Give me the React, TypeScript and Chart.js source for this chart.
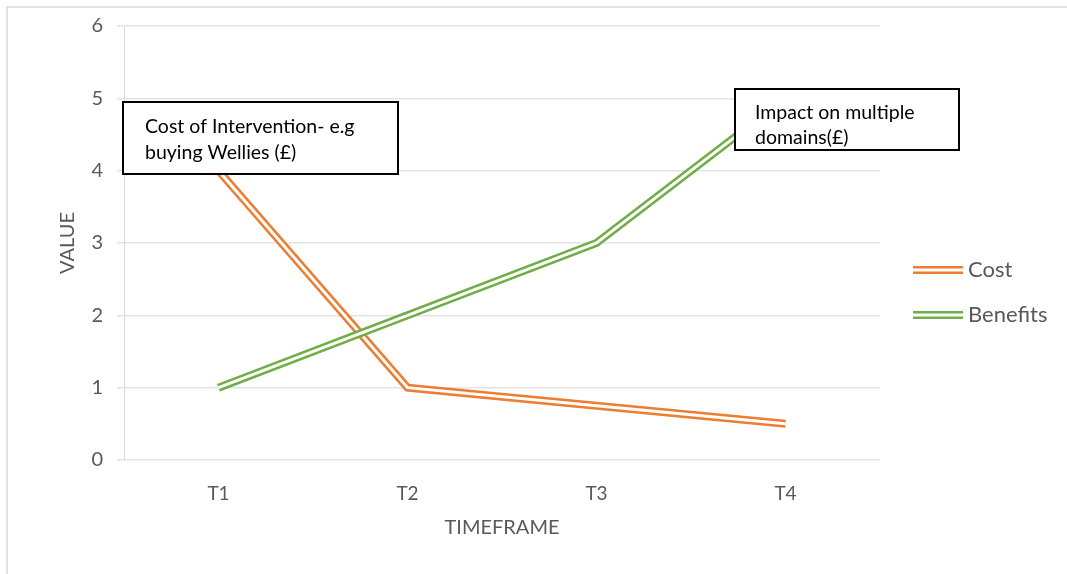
import React, { useEffect, useRef } from "react";
import { Chart, registerables } from "chart.js";

Chart.register(...registerables);

const categories = ["T1", "T2", "T3", "T4"];
const costValues = [4, 1, 0.75, 0.5];
const benefitValues = [1, 2, 3, 5];
const yTicks = [0, 1, 2, 3, 4, 5, 6];
const seriesNames = ["Cost", "Benefits"];
const seriesColors = ["#ED7D31", "#70AD47"];
const notes = [
  ["Cost of Intervention- e.g", "buying Wellies (£)"],
  ["Impact on multiple", "domains(£)"],
];

const FONT = "Lato, 'Open Sans', sans-serif";
const TEXT = "#595959";

const extrasPlugin = {
  id: "extras",
  beforeDraw(chart: any) {
    const ctx = chart.ctx;
    ctx.save();
    ctx.fillStyle = "#fff";
    ctx.fillRect(0, 0, chart.width, chart.height);
    ctx.strokeStyle = "#D9D9D9";
    ctx.lineWidth = 1.5;
    ctx.beginPath();
    ctx.moveTo(7, chart.height);
    ctx.lineTo(7, 7);
    ctx.lineTo(chart.width, 7);
    ctx.stroke();
    ctx.restore();
  },
  afterDatasetsDraw(chart: any) {
    const ctx = chart.ctx;
    ctx.save();
    const boxes = [
      { x: 123, y: 102, w: 275, h: 72, tx: 145, ty: [127, 153], lines: notes[0] },
      { x: 735, y: 89, w: 224, h: 61, tx: 755, ty: [113, 138], lines: notes[1] },
    ];
    boxes.forEach((b) => {
      ctx.fillStyle = "#fff";
      ctx.fillRect(b.x, b.y, b.w, b.h);
      ctx.strokeStyle = "#000";
      ctx.lineWidth = 2;
      ctx.strokeRect(b.x, b.y, b.w, b.h);
      ctx.fillStyle = "#000";
      ctx.font = `19.5px ${FONT}`;
      ctx.textBaseline = "middle";
      ctx.textAlign = "left";
      b.lines.forEach((l: string, i: number) => ctx.fillText(l, b.tx, b.ty[i]));
    });
    const ly = [270, 315];
    seriesNames.forEach((name, i) => {
      ctx.strokeStyle = seriesColors[i];
      ctx.lineWidth = 8;
      ctx.beginPath();
      ctx.moveTo(913, ly[i]);
      ctx.lineTo(963, ly[i]);
      ctx.stroke();
      ctx.strokeStyle = "#fff";
      ctx.lineWidth = 3;
      ctx.beginPath();
      ctx.moveTo(912, ly[i]);
      ctx.lineTo(964, ly[i]);
      ctx.stroke();
      ctx.fillStyle = TEXT;
      ctx.font = `22px ${FONT}`;
      ctx.textBaseline = "middle";
      ctx.textAlign = "left";
      ctx.fillText(name, 968, ly[i]);
    });
    ctx.restore();
  },
};

export default function App() {
  const ref = useRef<HTMLCanvasElement>(null);
  useEffect(() => {
    if (!ref.current) return;
    const mk = (label: string, data: number[], color: string, w: number, order: number) => ({
      label,
      data,
      borderColor: color,
      backgroundColor: color,
      borderWidth: w,
      pointRadius: 0,
      tension: 0,
      fill: false,
      order,
    });
    const chart = new Chart(ref.current, {
      type: "line",
      data: {
        labels: categories,
        datasets: [
          mk(seriesNames[0], costValues, seriesColors[0], 8, 3),
          mk(seriesNames[0] + "-inner", costValues, "#ffffff", 3, 2),
          mk(seriesNames[1], benefitValues, seriesColors[1], 8, 1),
          mk(seriesNames[1] + "-inner", benefitValues, "#ffffff", 3, 0),
        ],
      },
      options: {
        animation: false,
        responsive: false,
        devicePixelRatio: 1,
        layout: { padding: { top: 22, right: 187, bottom: 0, left: 0 } },
        plugins: { legend: { display: false }, tooltip: { enabled: false } },
        scales: {
          x: {
            type: "category",
            offset: true,
            grid: { display: false, drawTicks: false },
            border: { display: false },
            ticks: { color: TEXT, font: { family: FONT, size: 19 }, padding: 22 },
            title: {
              display: true,
              text: "TIMEFRAME",
              color: TEXT,
              font: { family: FONT, size: 20 },
              padding: { top: 0, bottom: 34 },
            },
            afterFit: (s: any) => {
              s.height = 114;
            },
          },
          y: {
            min: 0,
            max: 6,
            afterBuildTicks: (s: any) => {
              s.ticks = yTicks.map((v) => ({ value: v }));
            },
            grid: { color: "#E3E3E3", lineWidth: 1.5, tickLength: 7 },
            border: { display: true, color: "#D9D9D9" },
            ticks: { color: TEXT, font: { family: FONT, size: 20 }, padding: 14 },
            title: {
              display: true,
              text: "VALUE",
              color: TEXT,
              font: { family: FONT, size: 20 },
              padding: { top: 56, bottom: 0 },
            },
            afterFit: (s: any) => {
              s.width = 124;
            },
          },
        },
      },
      plugins: [extrasPlugin],
    } as any);
    return () => chart.destroy();
  }, []);
  return (
    <div style={{ position: "fixed", left: 0, top: 0, width: 1067, height: 574, background: "#fff" }}>
      <canvas ref={ref} width={1067} height={574} style={{ width: 1067, height: 574, display: "block" }} />
    </div>
  );
}
